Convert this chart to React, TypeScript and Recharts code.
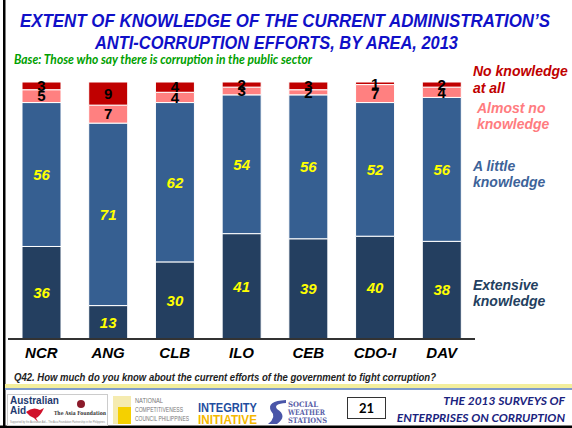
import React from 'react';
import { BarChart, Bar, XAxis, YAxis, LabelList } from 'recharts';

const areas = ['NCR', 'ANG', 'CLB', 'ILO', 'CEB', 'CDO-I', 'DAV'];
const extensive = [36, 13, 30, 41, 39, 40, 38];
const aLittle = [56, 71, 62, 54, 56, 52, 56];
const almostNo = [5, 7, 4, 3, 2, 7, 4];
const noKnowledge = [3, 9, 4, 2, 3, 1, 2];

const data = areas.map((area, i) => ({
  area,
  extensive: extensive[i],
  aLittle: aLittle[i],
  almostNo: almostNo[i],
  noKnowledge: noKnowledge[i],
}));

const C_EXT = '#243F60';
const C_LIT = '#365F91';
const C_ALM = '#FF8080';
const C_NON = '#C00000';

const FONT = 'Arial, "Liberation Sans", sans-serif';
const CAL = 'Lato, Carlito, "Open Sans", sans-serif';

const yellowLabel = { fill: '#FFFF00', fontWeight: 'bold', fontStyle: 'italic', fontSize: 15, fontFamily: FONT } as any;
const blackLabel = { fill: '#000', fontWeight: 'bold', fontSize: 15, fontFamily: FONT } as any;

export default function App() {
  return (
    <div style={{ position: 'absolute', left: 0, top: 0, width: 572, height: 428, background: '#fff', overflow: 'hidden' }}>
      <div style={{ position: 'absolute', left: 0, top: 0 }}>
        <BarChart width={572} height={428} data={data} margin={{ top: 82, right: 97, bottom: 59, left: 8 }}>
          <YAxis hide domain={[0, 100]} />
          <XAxis
            dataKey="area"
            height={30}
            tickLine={false}
            axisLine={{ stroke: '#333', strokeWidth: 2 }}
            tick={{ fill: '#000', fontSize: 15, fontWeight: 'bold', fontStyle: 'italic', fontFamily: FONT }}
            interval={0}
          />
          <Bar dataKey="extensive" stackId="a" fill={C_EXT} barSize={39} stroke="#fff" strokeWidth={1} isAnimationActive={false}>
            <LabelList dataKey="extensive" position="center" style={yellowLabel} />
          </Bar>
          <Bar dataKey="aLittle" stackId="a" fill={C_LIT} barSize={39} stroke="#fff" strokeWidth={1} isAnimationActive={false}>
            <LabelList dataKey="aLittle" position="center" style={yellowLabel} />
          </Bar>
          <Bar dataKey="almostNo" stackId="a" fill={C_ALM} barSize={39} stroke="#fff" strokeWidth={1} isAnimationActive={false}>
            <LabelList dataKey="almostNo" position="center" style={blackLabel} />
          </Bar>
          <Bar dataKey="noKnowledge" stackId="a" fill={C_NON} barSize={39} stroke="#fff" strokeWidth={1} isAnimationActive={false}>
            <LabelList dataKey="noKnowledge" position="center" style={blackLabel} />
          </Bar>
        </BarChart>
      </div>
      <svg width={572} height={428} style={{ position: 'absolute', left: 0, top: 0, pointerEvents: 'none' }}>
        {/* frame */}
        <rect x={3} y={0} width={2.5} height={428} fill="#000" />
        <rect x={0} y={425.5} width={572} height={2.5} fill="#000" />
        {/* title */}
        <g fontFamily={FONT} fontWeight="bold" fontStyle="italic" fill="#1010C8" fontSize={19}>
          <text x={20} y={27} textLength={530} lengthAdjust="spacingAndGlyphs">EXTENT OF KNOWLEDGE OF THE CURRENT ADMINISTRATION’S</text>
          <text x={95} y={49} textLength={363} lengthAdjust="spacingAndGlyphs">ANTI-CORRUPTION EFFORTS, BY AREA, 2013</text>
        </g>
        <text x={14} y={64} fontFamily={CAL} fontWeight="bold" fontStyle="italic" fontSize={12.5} fill="#00A000" textLength={298} lengthAdjust="spacingAndGlyphs">Base: Those who say there is corruption in the public sector</text>
        {/* legend labels */}
        <g fontFamily={FONT} fontWeight="bold" fontStyle="italic" fontSize={14}>
          <text x={473} y={76} fill={C_NON}>No knowledge</text>
          <text x={473} y={93} fill={C_NON}>at all</text>
          <text x={477} y={113} fill="#FF7C80">Almost no</text>
          <text x={477} y={129} fill="#FF7C80">knowledge</text>
          <text x={473} y={171} fill="#3D6399">A little</text>
          <text x={473} y={187} fill="#3D6399">knowledge</text>
          <text x={473} y={290} fill={C_EXT}>Extensive</text>
          <text x={473} y={306} fill={C_EXT}>knowledge</text>
        </g>
        {/* question */}
        <text x={14} y={381} fontFamily={FONT} fontWeight="bold" fontStyle="italic" fontSize={10} fill="#222" textLength={422} lengthAdjust="spacingAndGlyphs">Q42. How much do you know about the current efforts of the government to fight corruption?</text>
        {/* footer rule */}
        <rect x={5} y={384} width={567} height={4} fill="#F3EE9C" />
        <rect x={5} y={388} width={567} height={2} fill="#7F9CCB" />
        {/* Australian Aid logo */}
        <rect x={7.5} y={394.5} width={100} height={31} fill="#fff" stroke="#ccc" />
        <text x={10} y={404} fontFamily={FONT} fontWeight="bold" fontSize={10} fill="#1F3A6F">Australian</text>
        <text x={10} y={414} fontFamily={FONT} fontWeight="bold" fontSize={10} fill="#1F3A6F">Aid</text>
        <path d="M26 412 Q33 406 40 410 L44 408 L42 412 Q39 417 36 418 L38 422 L34 418 Q29 416 26 412 Z" fill="#D0112B" />
        <circle cx={81} cy={404} r={4} fill="#8B1A2A" />
        <text x={54} y={415} fontFamily="DejaVu Serif, serif" fontWeight="bold" fontSize={5.5} fill="#333" textLength={52} lengthAdjust="spacingAndGlyphs">The Asia Foundation</text>
        <text x={10} y={423} fontFamily={FONT} fontSize={3} fill="#888" textLength={95} lengthAdjust="spacingAndGlyphs">Supported by the Australian Aid – The Asia Foundation Partnership in the Philippines</text>
        {/* NCC logo */}
        <rect x={113} y={396} width={18} height={28} fill="#F5EBB0" />
        <rect x={118} y={407} width={13} height={17} fill="#F5D000" />
        <g fontFamily={FONT} fontSize={6.5} fill="#777">
          <text x={135} y={403} textLength={28} lengthAdjust="spacingAndGlyphs">NATIONAL</text>
          <text x={135} y={412} textLength={48} lengthAdjust="spacingAndGlyphs">COMPETITIVENESS</text>
          <text x={135} y={421} textLength={54} lengthAdjust="spacingAndGlyphs">COUNCIL PHILIPPINES</text>
        </g>
        {/* Integrity Initiative */}
        <text x={198} y={412} fontFamily={FONT} fontWeight="bold" fontSize={13} fill="#1F4E9F" textLength={59} lengthAdjust="spacingAndGlyphs">INTEGRITY</text>
        <text x={198} y={424} fontFamily={FONT} fontWeight="bold" fontSize={13} fill="#F5B800" textLength={59} lengthAdjust="spacingAndGlyphs">INITIATIVE</text>
        {/* SWS */}
        <path d="M286 400 Q266 401 271 411 Q277 417 268 424 L277 424 Q288 416 277 409 Q273 404 286 403 Z" fill="#4A55A8" />
        <g fontFamily="DejaVu Serif, serif" fontWeight="bold" fontSize={7.5} fill="#5A5FA8">
          <text x={288} y={407} textLength={30} lengthAdjust="spacingAndGlyphs">SOCIAL</text>
          <text x={288} y={415} textLength={37} lengthAdjust="spacingAndGlyphs">WEATHER</text>
          <text x={288} y={423} textLength={39} lengthAdjust="spacingAndGlyphs">STATIONS</text>
        </g>
        {/* page number */}
        <rect x={347.5} y={397.5} width={38} height={21} fill="#fff" stroke="#333" />
        <text x={366.5} y={413} textAnchor="middle" fontFamily={CAL} fontWeight="bold" fontSize={13} fill="#000">21</text>
        {/* right footer */}
        <g fontFamily={CAL} fontWeight="bold" fontStyle="italic" fontSize={12} fill="#1A237E" textAnchor="end">
          <text x={565} y={405}>THE 2013 SURVEYS OF</text>
          <text x={565} y={422}>ENTERPRISES ON CORRUPTION</text>
        </g>
      </svg>
    </div>
  );
}
